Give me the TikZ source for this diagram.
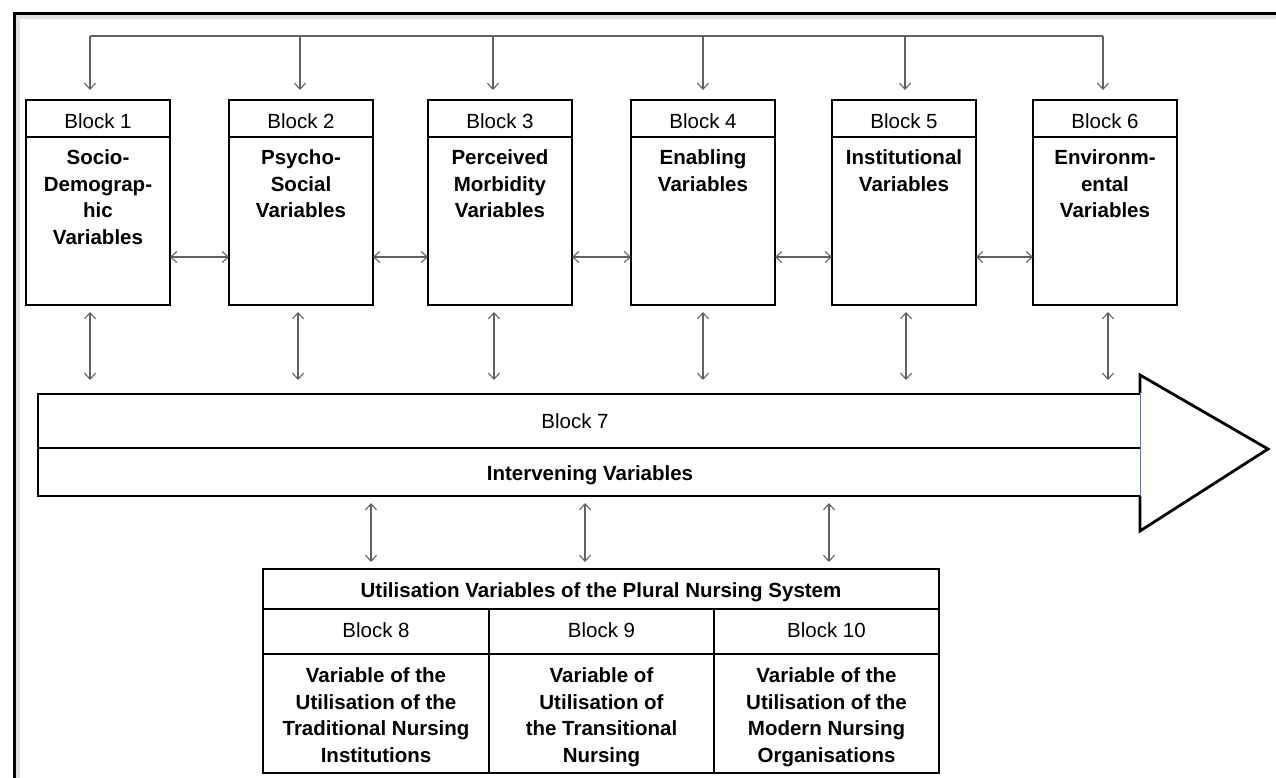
\documentclass[tikz,border=0pt]{standalone}
\usepackage{fontspec}
\setmainfont{Liberation Sans}
\usetikzlibrary{arrows.meta}
\definecolor{edgeblue}{RGB}{86,117,160}
\newcommand\rfont{\fontsize{20.5}{26.7}\selectfont}
\begin{document}
\begin{tikzpicture}[x=1pt,y=-1pt,
  box/.style={draw=black, line width=2.8pt, inner sep=0pt, outer sep=0pt, anchor=north west},
  hdr/.style={box, minimum width=144pt, minimum height=37pt, font=\rfont, text height=20pt, text depth=0pt},
  bodybox/.style={box, minimum width=144pt, minimum height=168pt},
  btext/.style={anchor=north, align=center, inner sep=0pt, font=\rfont\bfseries},
  conn/.style={draw=black!62, line width=1.1pt},
  tip/.style={conn, -{Straight Barb[length=6pt,width=11pt]}},
  dbl/.style={conn, {Straight Barb[length=6pt,width=11pt]}-{Straight Barb[length=6pt,width=11pt]}},
  thick line/.style={draw=black, line width=2.8pt},
]
\useasboundingbox (0,0) rectangle (1276,778);
\clip (0,0) rectangle (1276,778);

% outer frame
\draw[black!12, line width=4pt] (17.5,800) -- (17.5,17.5) -- (1300,17.5);
\draw[line width=3pt] (14,800) -- (14,14) -- (1300,14);

% blocks 1-6
\foreach \i/\x in {1/26, 2/229, 3/428, 4/631, 5/832, 6/1033}{
  \node[hdr] (h\i) at (\x,100) {Block \i};
  \node[bodybox] (b\i) at (\x,137) {};
}
\node[btext] (t1) at ([yshift=-12.5pt]b1.north) {Socio-\\Demograp-\\hic\\Variables};
\node[btext] (t2) at ([yshift=-12.5pt]b2.north) {Psycho-\\Social\\Variables};
\node[btext] (t3) at ([yshift=-12.5pt]b3.north) {Perceived\\Morbidity\\Variables};
\node[btext] (t4) at ([yshift=-12.5pt]b4.north) {Enabling\\Variables};
\node[btext] (t5) at ([yshift=-12.5pt]b5.north) {Institutional\\Variables};
\node[btext] (t6) at ([yshift=-12.5pt]b6.north) {Environm-\\ental\\Variables};

% horizontal double arrows between blocks
\foreach \i/\j in {1/2,2/3,3/4,4/5,5/6}{
  \draw[dbl] ([yshift=-36pt]b\i.east) -- ([yshift=-36pt]b\j.west);
}

% top distribution line
\foreach \i/\x in {1/90, 2/300, 3/493, 4/703, 5/905, 6/1103}{
  \coordinate (top\i) at (\x,36);
  \coordinate (tip\i) at (\x,90);
}
\draw[conn] (top1) -- (top6);
\foreach \i in {1,...,6}{ \draw[tip] (top\i) -- (tip\i); }

% block 7 bar
\node[inner sep=0pt, outer sep=0pt, anchor=north west, minimum width=1102pt, minimum height=54pt] (bar7) at (38,394) {};
\node[inner sep=0pt, outer sep=0pt, anchor=north west, minimum width=1102pt, minimum height=48pt] (barI) at (38,448) {};
\draw[thick line] (bar7.north east) -- (bar7.north west) -- (barI.south west) -- (barI.south east);
\draw[thick line] (barI.north west) -- (barI.north east);
\draw[line width=2.8pt, fill=white, line join=miter] (1140,393) -- (1140,375) -- (1268,449) -- (1140,531) -- (1140,496);
\draw[line width=1pt, edgeblue] (bar7.north east) -- (barI.south east);
\node[font=\rfont, anchor=base, inner sep=0pt] (bt7) at (575,428) {Block 7};
\node[font=\rfont\bfseries, anchor=base, inner sep=0pt] (btI) at (590,480) {Intervening Variables};

% vertical arrows blocks <-> bar
\foreach \i/\x in {1/90, 2/298, 3/494, 4/703, 5/906, 6/1108}{
  \coordinate (u\i) at (\x,312);
  \coordinate (d\i) at (\x,380);
  \draw[dbl] (u\i) -- (d\i);
}

% table
\node[box, minimum width=676pt, minimum height=40pt, font=\rfont\bfseries, text height=17pt, text depth=0pt] (title) at (263,569) {Utilisation Variables of the Plural Nursing System};
\node[box, minimum width=226pt, minimum height=45pt, font=\rfont, text height=15pt, text depth=4pt] (h8) at (263,609) {Block 8};
\node[box, minimum width=225pt, minimum height=45pt, font=\rfont, text height=15pt, text depth=4pt] (h9) at (489,609) {Block 9};
\node[box, minimum width=225pt, minimum height=45pt, font=\rfont, text height=15pt, text depth=4pt] (h10) at (714,609) {Block 10};
\node[box, minimum width=226pt, minimum height=119pt] (b8) at (263,654) {};
\node[box, minimum width=225pt, minimum height=119pt] (b9) at (489,654) {};
\node[box, minimum width=225pt, minimum height=119pt] (b10) at (714,654) {};
\node[btext] (t8) at ([yshift=-13.5pt]b8.north) {Variable of the\\Utilisation of the\\Traditional Nursing\\Institutions};
\node[btext] (t9) at ([yshift=-13.5pt]b9.north) {Variable of\\Utilisation of\\the Transitional\\Nursing};
\node[btext] (t10) at ([yshift=-13.5pt]b10.north) {Variable of the\\Utilisation of the\\Modern Nursing\\Organisations};

% vertical arrows bar <-> table
\foreach \i/\x in {1/371, 2/585, 3/829}{
  \coordinate (v\i) at (\x,503);
  \coordinate (w\i) at (\x,562);
  \draw[dbl] (v\i) -- (w\i);
}
\end{tikzpicture}
\end{document}
